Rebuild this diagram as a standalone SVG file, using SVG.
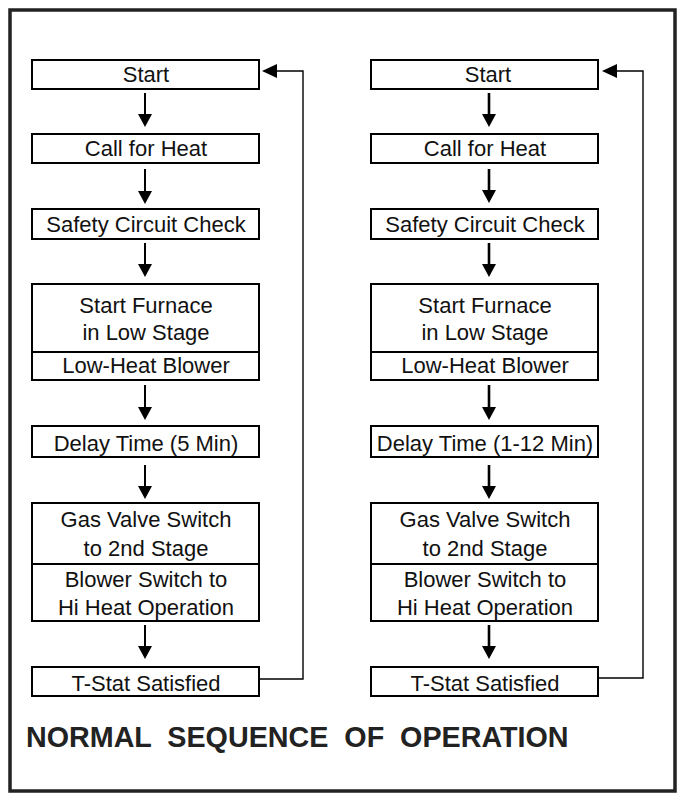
<svg xmlns="http://www.w3.org/2000/svg" width="679" height="794" viewBox="0 0 679 794">
<style>
.frame{fill:#fff;stroke:#222;stroke-width:3.5}
.box{fill:#fff;stroke:#000;stroke-width:2}
.div{stroke:#000;stroke-width:2}
.t{font-family:"Liberation Sans",Arial,sans-serif;font-size:22px;fill:#111;text-anchor:middle}
.title{font-family:"Liberation Sans",Arial,sans-serif;font-size:28.7px;font-weight:bold;fill:#222;word-spacing:8px}
.ln{stroke:#000;stroke-width:2;fill:none}
.lnR{stroke:#000;stroke-width:2.6;fill:none}
.fb{stroke:#000;stroke-width:1.4;fill:none}
.ah{fill:#000}
</style>
<rect class="frame" x="10" y="10" width="665" height="781"/>

<g id="left-start"><rect class="box" x="32" y="60" width="227" height="29"/><text class="t" x="146" y="82">Start</text></g>
<g id="left-call"><rect class="box" x="32" y="134" width="227" height="29"/><text class="t" x="146" y="156">Call for Heat</text></g>
<g id="left-safety"><rect class="box" x="32" y="209" width="227" height="30"/><text class="t" x="146" y="232">Safety Circuit Check</text></g>
<g id="left-furnace"><rect class="box" x="32" y="284" width="227" height="96"/><line class="div" x1="32" y1="352" x2="259" y2="352"/><text class="t" x="146" y="313">Start Furnace</text><text class="t" x="146" y="340">in Low Stage</text><text class="t" x="146" y="373">Low-Heat Blower</text></g>
<g id="left-delay"><rect class="box" x="32" y="426" width="227" height="31"/><text class="t" x="146" y="451">Delay Time (5 Min)</text></g>
<g id="left-gas"><rect class="box" x="32" y="503" width="227" height="118"/><line class="div" x1="32" y1="564" x2="259" y2="564"/><text class="t" x="146" y="527">Gas Valve Switch</text><text class="t" x="146" y="556">to 2nd Stage</text><text class="t" x="146" y="587">Blower Switch to</text><text class="t" x="146" y="615">Hi Heat Operation</text></g>
<g id="left-tstat"><rect class="box" x="32" y="667" width="227" height="29"/><text class="t" x="146" y="691">T-Stat Satisfied</text></g>

<g id="right-start"><rect class="box" x="371" y="60" width="227" height="29"/><text class="t" x="488" y="82">Start</text></g>
<g id="right-call"><rect class="box" x="371" y="134" width="227" height="29"/><text class="t" x="485" y="156">Call for Heat</text></g>
<g id="right-safety"><rect class="box" x="371" y="209" width="227" height="30"/><text class="t" x="485" y="232">Safety Circuit Check</text></g>
<g id="right-furnace"><rect class="box" x="371" y="284" width="227" height="96"/><line class="div" x1="371" y1="352" x2="598" y2="352"/><text class="t" x="485" y="313">Start Furnace</text><text class="t" x="485" y="340">in Low Stage</text><text class="t" x="485" y="373">Low-Heat Blower</text></g>
<g id="right-delay"><rect class="box" x="371" y="426" width="227" height="31"/><text class="t" x="485" y="451">Delay Time (1-12 Min)</text></g>
<g id="right-gas"><rect class="box" x="371" y="503" width="227" height="118"/><line class="div" x1="371" y1="564" x2="598" y2="564"/><text class="t" x="485" y="527">Gas Valve Switch</text><text class="t" x="485" y="556">to 2nd Stage</text><text class="t" x="485" y="587">Blower Switch to</text><text class="t" x="485" y="615">Hi Heat Operation</text></g>
<g id="right-tstat"><rect class="box" x="371" y="667" width="227" height="29"/><text class="t" x="485" y="691">T-Stat Satisfied</text></g>

<g id="connectors">
<line class="ln" x1="145" y1="93" x2="145" y2="115"/><polygon class="ah" points="138,114 152,114 145,127"/>
<line class="ln" x1="145" y1="169" x2="145" y2="192"/><polygon class="ah" points="138,191 152,191 145,204"/>
<line class="ln" x1="145" y1="243" x2="145" y2="265"/><polygon class="ah" points="138,264 152,264 145,277"/>
<line class="ln" x1="145" y1="385" x2="145" y2="408"/><polygon class="ah" points="138,407 152,407 145,420"/>
<line class="ln" x1="145" y1="465" x2="145" y2="487"/><polygon class="ah" points="138,486 152,486 145,499"/>
<line class="ln" x1="145" y1="625" x2="145" y2="647"/><polygon class="ah" points="138,646 152,646 145,659"/>
<polyline class="fb" points="259,679 303,679 303,71 276,71"/><polygon class="ah" points="277,64 277,78 262,71"/>

<line class="lnR" x1="489" y1="93" x2="489" y2="115"/><polygon class="ah" points="482,114 496,114 489,127"/>
<line class="lnR" x1="489" y1="169" x2="489" y2="191"/><polygon class="ah" points="482,190 496,190 489,203"/>
<line class="lnR" x1="489" y1="243" x2="489" y2="265"/><polygon class="ah" points="482,264 496,264 489,277"/>
<line class="lnR" x1="489" y1="385" x2="489" y2="408"/><polygon class="ah" points="482,407 496,407 489,420"/>
<line class="lnR" x1="489" y1="465" x2="489" y2="487"/><polygon class="ah" points="482,486 496,486 489,499"/>
<line class="lnR" x1="489" y1="625" x2="489" y2="647"/><polygon class="ah" points="482,646 496,646 489,659"/>
<polyline class="fb" points="598,678 643,678 643,71 616,71"/><polygon class="ah" points="617,64 617,78 602,71"/>
</g>

<text class="title" x="26" y="747">NORMAL SEQUENCE OF OPERATION</text>
</svg>
